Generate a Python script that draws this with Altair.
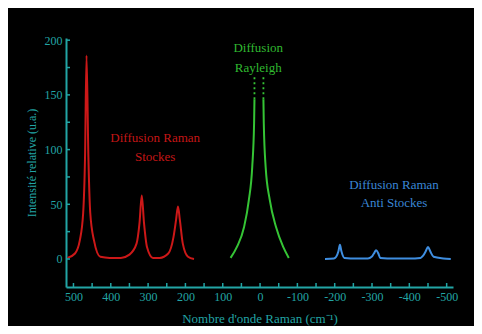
import altair as alt
import pandas as pd

# ---- data ----
red_x = [516, 496, 483, 474, 469, 465, 460, 455, 445, 428, 403, 373, 350, 331, 323, 317, 311, 303, 287, 269, 246, 232, 225, 220, 215, 207, 193, 177]
red_y = [1, 5, 17, 42, 93, 186, 93, 42, 17, 2, 1, 1, 4, 14, 33, 58, 33, 11, 1, 1, 5, 20, 36, 48, 36, 14, 2, 0]

green_left_x = [79, 62, 43, 30, 21, 16, 15]
green_left_y = [1, 11, 29, 54, 84, 124, 146]
green_right_x = [-9, -10, -15, -26, -43, -62, -77]
green_right_y = [146, 124, 84, 54, 29, 11, 1]
green_dot_top = 168

blue_x = [-174, -198, -204, -210, -214, -218, -226, -259, -289, -299, -305, -311, -317, -322, -360, -400, -430, -437, -444, -450, -456, -465, -491, -511]
blue_y = [0, 0.5, 2, 7, 13, 7, 1, 0.5, 0.5, 2, 5, 8, 5, 1, 0.5, 0.5, 1, 3, 7, 11, 7, 2, 0.5, 0]

x_major = [500, 400, 300, 200, 100, 0, -100, -200, -300, -400, -500]
x_minor = [450, 350, 250, 150, 50, -50, -150, -250, -350, -450]
y_major = [0, 50, 100, 150, 200]
y_minor = [25, 75, 125, 175]

labels = ["Diffusion Raman", "Stockes", "Diffusion", "Rayleigh", "Diffusion Raman", "Anti Stockes"]
label_x = [281, 281, 5, 5, -359, -359]
label_y = [111, 93, 193, 175, 68, 51]
label_series = ["red", "red", "green", "green", "blue", "blue"]

TEAL = "#22a5a5"
COLORS = {"red": "#cc1818", "green": "#35c435", "blue": "#3f8ee0"}
TXT = {"red": "#c41616", "green": "#30b830", "blue": "#3a86d4"}
FONT = "Liberation Serif"

W, H = 387, 249

# ---- tables ----
rows = []
for i, (x, y) in enumerate(zip(red_x, red_y)):
    rows.append({"x": x, "y": y, "part": "red", "i": i, "c": COLORS["red"]})
for i, (x, y) in enumerate(zip(green_left_x, green_left_y)):
    rows.append({"x": x, "y": y, "part": "gl", "i": i, "c": COLORS["green"]})
for i, (x, y) in enumerate(zip(green_right_x, green_right_y)):
    rows.append({"x": x, "y": y, "part": "gr", "i": i, "c": COLORS["green"]})
for i, (x, y) in enumerate(zip(blue_x, blue_y)):
    rows.append({"x": x, "y": y, "part": "blue", "i": i, "c": COLORS["blue"]})
spec = pd.DataFrame(rows)

dots = pd.DataFrame([
    {"x": green_left_x[-1], "y": green_left_y[-1], "part": "l", "i": 0},
    {"x": green_left_x[-1], "y": green_dot_top, "part": "l", "i": 1},
    {"x": green_right_x[0], "y": green_right_y[0], "part": "r", "i": 0},
    {"x": green_right_x[0], "y": green_dot_top, "part": "r", "i": 1},
])

texts = pd.DataFrame({"t": labels, "x": label_x, "y": label_y,
                      "c": [TXT[s] for s in label_series]})

xt = pd.DataFrame({"x": x_major + x_minor})
yt = pd.DataFrame({"y": y_major + y_minor})

xscale = alt.Scale(domain=[520, -517], nice=False, zero=False)
yscale = alt.Scale(domain=[-25.6, 202], nice=False, zero=False)

xaxis = alt.Axis(values=x_major, labelExpr="'' + datum.value", title="Nombre d'onde Raman (cm⁻¹)",
                 titlePadding=10, labelPadding=4, labelOverlap=False, labelFontSize=12,
                 titleFontSize=13)
yaxis = alt.Axis(values=y_major, title="Intensité relative (u.a.)", titlePadding=6,
                 labelPadding=4, labelFontSize=12, titleFontSize=12, labelOverlap=False)

X = alt.X("x:Q", scale=xscale, axis=xaxis)
Y = alt.Y("y:Q", scale=yscale, axis=yaxis)

lines = alt.Chart(spec).mark_line(interpolate="monotone", strokeWidth=2).encode(
    x=X, y=Y,
    detail="part:N",
    order="i:Q",
    color=alt.Color("c:N", scale=None),
)

dotted = alt.Chart(dots).mark_line(strokeWidth=1.8, strokeDash=[2, 3], color=COLORS["green"]).encode(
    x=X, y=Y,
    detail="part:N",
    order="i:Q",
)

text = alt.Chart(texts).mark_text(font=FONT, fontSize=13, baseline="middle", align="center").encode(
    x=X, y=Y,
    text="t:N",
    color=alt.Color("c:N", scale=None),
)

xticks = alt.Chart(xt).mark_rule(color=TEAL, strokeWidth=1.5).encode(
    x=X,
    y=alt.value(H),
    y2=alt.value(H - 4),
)

yticks = alt.Chart(yt).mark_rule(color=TEAL, strokeWidth=1.5).encode(
    y=Y,
    x=alt.value(0),
    x2=alt.value(4),
)

chart = alt.layer(lines, dotted, text, xticks, yticks).properties(
    width=W, height=H,
    background="black",
    autosize=alt.AutoSizeParams(type="none"),
    padding={"left": 58, "top": 30, "right": 21, "bottom": 39},
).configure_view(stroke=None).configure_axis(
    grid=False, ticks=False, domainColor=TEAL, domainWidth=2,
    labelColor=TEAL, labelFont=FONT, labelOverlap=False,
    titleColor=TEAL, titleFont=FONT, titleFontWeight="normal",
)

chart.save("out.html", embed_options={"renderer": "svg", "actions": False})
